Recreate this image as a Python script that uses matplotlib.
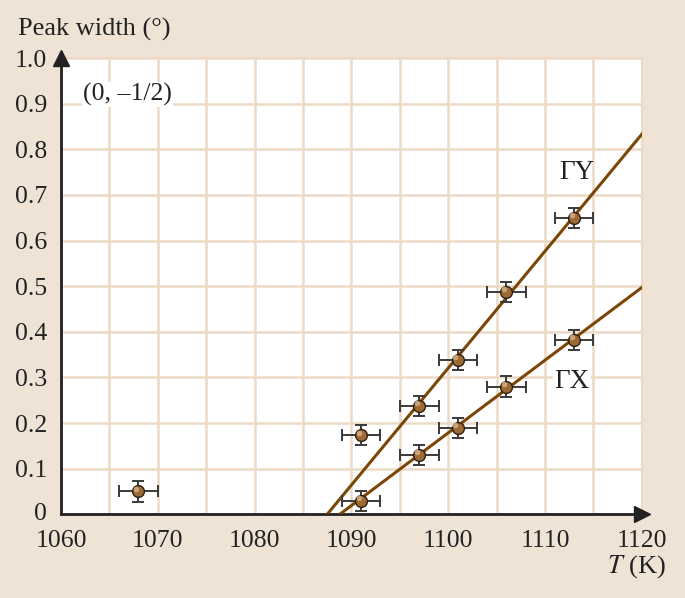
import numpy as np
import matplotlib
matplotlib.use("Agg")
import matplotlib.pyplot as plt

plt.rcParams['font.family'] = ['Liberation Serif', 'DejaVu Serif']
plt.rcParams['mathtext.fontset'] = 'stix'

# data
temp = [1068, 1091, 1091, 1097, 1097, 1101, 1101, 1106, 1106, 1113, 1113]
width = [0.05, 0.173, 0.03, 0.237, 0.13, 0.338, 0.19, 0.487, 0.28, 0.649, 0.382]
temp_err = 2.0
width_err = 0.022

# fitted lines: (T at zero width, width at 1120 K)
gy_line_t = [1087.5, 1120]
gy_line_w = [0.0, 0.833]
gx_line_t = [1088.8, 1120]
gx_line_w = [0.0, 0.497]

bg = '#efe3d6'
grid_col = '#ecdac6'
line_col = '#7a4708'

fig = plt.figure(figsize=(6.85, 5.98), dpi=100, facecolor=bg)
ax = fig.add_axes([0.089, 0.140, 0.848, 0.763])
ax.set_facecolor('white')

ax.set_xlim(1060, 1120)
ax.set_ylim(0, 1.0)
ax.set_xticks(np.arange(1060, 1121, 10))
ax.set_xticks(np.arange(1060, 1121, 5), minor=True)
ax.set_yticks(np.arange(0, 1.01, 0.1))
ax.set_yticklabels(['0'] + ['%.1f' % v for v in np.arange(0.1, 1.01, 0.1)])
ax.grid(True, which='both', color=grid_col, lw=1.8, zorder=0)
ax.tick_params(which='both', length=0, labelsize=18.5, colors='#222222')
ax.tick_params(axis='x', pad=11)
ax.tick_params(axis='y', pad=10)
ax.get_yticklabels()[0].set_verticalalignment('center')

for s in ['top', 'right']:
    ax.spines[s].set_color(grid_col)
    ax.spines[s].set_linewidth(1.5)
for s in ['left', 'bottom']:
    ax.spines[s].set_color('#222222')
    ax.spines[s].set_linewidth(2.0)

# axis arrows
ax.plot(1, 0, '>', transform=ax.transAxes, color='#222222', ms=11, clip_on=False, zorder=6)
ax.plot(0, 1, '^', transform=ax.transAxes, color='#222222', ms=11, clip_on=False, zorder=6)

ax.plot(gy_line_t, gy_line_w, color=line_col, lw=2.2, zorder=3)
ax.plot(gx_line_t, gx_line_w, color=line_col, lw=2.2, zorder=3)

ax.errorbar(temp, width, xerr=temp_err, yerr=width_err, fmt='none',
            ecolor='#3a3a3a', elinewidth=1.4, capsize=4, capthick=1.4, zorder=4)
ax.plot(temp, width, 'o', ms=8.5, mfc='#9c6a32', mec='#2e1f10', mew=1.0, zorder=5)
ax.plot(np.array(temp) - 0.25, np.array(width) + 0.006, 'o', ms=4,
        mfc='#d8b58a', mec='none', alpha=0.8, zorder=5)

ax.text(1113.3, 0.75, 'ΓY', fontsize=19.5, ha='center', va='center', color='#222222', zorder=6)
ax.text(1112.8, 0.29, 'ΓX', fontsize=19.5, ha='center', va='center', color='#222222',
        zorder=6, bbox=dict(facecolor='white', edgecolor='none', pad=1))
ax.text(1062.3, 0.92, '(0, –1/2)', fontsize=18.5, ha='left', va='center', color='#222222',
        zorder=6, bbox=dict(facecolor='white', edgecolor='none', pad=1))

fig.text(0.026, 0.950, 'Peak width (°)', fontsize=19, ha='left', va='center', color='#222222')
fig.text(0.972, 0.053, '$T$ (K)', fontsize=19, ha='right', va='center', color='#222222')

fig.savefig('out.png', dpi=100, facecolor=bg)
